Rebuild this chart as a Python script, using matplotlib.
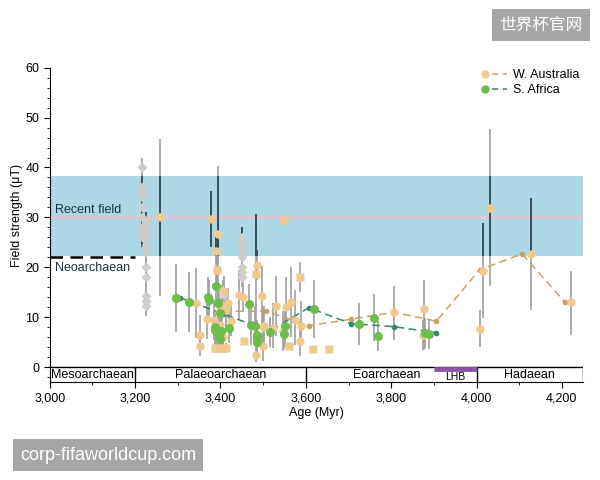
import numpy as np
import matplotlib
matplotlib.use('Agg')
import matplotlib.pyplot as plt
from matplotlib.lines import Line2D
from matplotlib.legend_handler import HandlerTuple
from matplotlib.ticker import MultipleLocator, FuncFormatter

plt.rcParams['font.family'] = ['Liberation Sans', 'Noto Sans CJK SC', 'DejaVu Sans']

# W. Australia palaeointensities (age Myr, field uT, lower err, upper err)
wa_age = [3258, 3378, 3394, 3390, 3391, 3409, 3417, 3368, 3351, 3353, 3343, 3413,
          3385, 3400, 3405, 3396, 3404, 3425, 3444, 3452, 3486, 3497, 3499, 3499,
          3483, 3529, 3554, 3565, 3575, 3589, 3587, 3546, 3522, 3503, 3807, 3876,
          3875, 4016, 4031, 4008, 4127, 4222]
wa_val = [30.0, 29.7, 26.7, 23.2, 19.5, 15.2, 12.9, 9.7, 6.4, 4.2, 12.9, 11.5,
          9.5, 8.5, 6.0, 11.0, 12.5, 9.2, 14.5, 14.0, 20.5, 14.2, 8.1, 4.3,
          2.5, 12.3, 12.1, 13.0, 9.5, 8.2, 5.3, 7.2, 7.9, 8.2, 11.0, 11.7,
          6.5, 19.3, 31.9, 7.7, 22.7, 13.0]
wa_lo = [15.8, 5.7, 23.0, 3, 4, 3, 3, 4, 3, 2, 7, 4,
         4, 4, 2, 5, 4, 3, 5, 3, 3, 6, 4, 3,
         1.5, 6, 6, 7, 5, 4, 3, 4, 4, 4, 5.5, 8.2,
         3, 9.4, 15.7, 3.7, 11.2, 6.5]
wa_hi = [15.7, 5.5, 13.5, 3, 4, 3, 3, 5, 4, 3, 7, 4,
         4, 4, 2, 5, 4, 3, 5, 3, 3, 6, 4, 3,
         2, 6, 6, 7, 6, 5, 3, 4, 5, 4, 5.2, 5.7,
         3, 9.6, 15.8, 3.8, 11.2, 6.2]

wa_sq_age = [3548, 3587, 3483, 3456, 3561, 3616, 3655, 3386, 3395, 3405, 3413, 3392]
wa_sq_val = [29.4, 18.0, 18.7, 5.2, 4.3, 3.7, 3.6, 3.9, 3.9, 3.9, 3.9, 19.5]
wa_sq_err = [0, 3, 12, 0, 0, 0, 0, 1, 1, 1, 1, 3]

# S. Africa
sa_age = [3296, 3326, 3370, 3373, 3390, 3394, 3398, 3388, 3392, 3396, 3400, 3386,
          3402, 3421, 3466, 3472, 3480, 3485, 3485, 3486, 3516, 3552, 3550, 3620,
          3725, 3759, 3768, 3880, 3889]
sa_val = [13.9, 13.1, 14.0, 13.4, 16.2, 12.9, 10.9, 8.0, 7.0, 6.2, 5.6, 7.5,
          7.2, 7.9, 12.7, 8.5, 8.3, 6.5, 5.8, 5.0, 7.0, 8.3, 6.7, 11.7,
          8.7, 9.9, 6.2, 6.9, 6.7]
sa_err = [6.8, 6, 4, 4, 3, 3, 3, 3, 3, 2, 2, 3,
          3, 3, 4, 4, 4, 3, 3, 3, 3, 4, 3, 5.8,
          4.2, 4.7, 3, 3, 3]

# grey (other) data
grey_age = [3217] * 9 + [3226] * 12 + [3450] * 9 + [3407, 3409]
grey_val = [40, 36, 35, 34, 32, 30, 28, 27, 26,
            29, 28, 27.5, 26.5, 26, 24.5, 23, 20, 18, 14.2, 13.2, 12.2,
            26, 25, 24.5, 24, 23, 22, 20, 19, 18,
            15.5, 14.5]

# running means
wa_tr_age = [3407, 3507, 3607, 3707, 3807, 3906, 4007, 4107, 4207]
wa_tr_val = [11.2, 11.2, 8.3, 9.6, 11.0, 9.2, 19.5, 22.7, 13.0]
sa_tr_age = [3305, 3405, 3515, 3607, 3706, 3807, 3906]
sa_tr_val = [13.9, 10.7, 7.2, 11.9, 8.7, 8.1, 6.9]

eons = ['Mesoarchaean', 'Palaeoarchaean', 'Eoarchaean', 'Hadaean']
eon_edges = [3000, 3200, 3600, 4000, 4250]
eon_label_x = [3100, 3400, 3790, 4125]

tan = '#f0c98f'
green = '#6cbd4c'
tan_line = '#c9a263'
green_line = '#33866b'
bar_grey = '#a0a0a0'
bar_dark = '#2f3f47'

fig = plt.figure(figsize=(6, 4.8), dpi=100)
ax = fig.add_axes([0.083, 0.204, 0.889, 0.655])

band = ax.axhspan(22.2, 38.2, xmin=0, xmax=1, color='#abd8e4', lw=0, zorder=0)
ax.axhline(30, color='#dcc6d4', lw=2.5, zorder=1)
ax.plot([3000, 3200], [22, 22], color='black', ls=(0, (5, 3)), lw=1.8, zorder=2)
ax.text(3012, 31.5, 'Recent field', fontsize=9, color='#1a3340', va='center')
ax.text(3012, 19.8, 'Neoarchaean', fontsize=9, color='#1a3340', va='center')

def err_bars(x, y, lo, hi):
    x = np.asarray(x, float)
    y = np.asarray(y, float)
    lo = np.asarray(lo, float)
    hi = np.asarray(hi, float)
    ax.vlines(x, y - lo, y + hi, color=bar_grey, lw=1.2, zorder=3)
    b = ax.vlines(x, y - lo, y + hi, color=bar_dark, lw=1.2, zorder=3)
    b.set_clip_path(band)

err_bars(grey_age, grey_val, [2] * len(grey_age), [2] * len(grey_age))
err_bars(wa_age, wa_val, wa_lo, wa_hi)
err_bars(wa_sq_age, wa_sq_val, wa_sq_err, wa_sq_err)
err_bars(sa_age, sa_val, sa_err, sa_err)

ax.plot(grey_age, grey_val, 'D', color='#cdcdcd', ms=5.5, mec='none', zorder=4)
ax.plot(wa_tr_age, wa_tr_val, color=tan_line, ls=(0, (5, 3)), lw=1.1,
        marker='o', ms=3, zorder=5)
ax.plot(sa_tr_age, sa_tr_val, color=green_line, ls=(0, (5, 3)), lw=1.1,
        marker='o', ms=3, zorder=5)
ax.plot(wa_age, wa_val, 'o', color=tan, ms=6, mec='none', zorder=6)
ax.plot(wa_sq_age, wa_sq_val, 's', color=tan, ms=5.5, mec='none', zorder=6)
ax.plot(sa_age, sa_val, 'o', color=green, ms=6.5, mec='none', zorder=6)

# geological time boxes
ax.plot([3000, 4250], [0, 0], color='black', lw=1, zorder=7)
for e in eon_edges[1:]:
    ax.plot([e, e], [-3, 0], color='black', lw=1, zorder=7)
for name, xc in zip(eons, eon_label_x):
    ax.text(xc, -1.5, name, ha='center', va='center', fontsize=9, zorder=8)
ax.plot([3900, 4000], [-0.35, -0.35], color='#8b55a8', lw=3.5,
        solid_capstyle='butt', zorder=8)
ax.text(3950, -1.9, 'LHB', ha='center', va='center', fontsize=7.5, zorder=8)

ax.set_xlim(3000, 4250)
ax.set_ylim(-3, 60)
for s in ['top', 'right']:
    ax.spines[s].set_visible(False)
ax.xaxis.set_major_locator(MultipleLocator(200))
ax.xaxis.set_minor_locator(MultipleLocator(100))
ax.xaxis.set_major_formatter(FuncFormatter(lambda v, p: f'{int(v):,}'))
ax.yaxis.set_major_locator(MultipleLocator(10))
ax.yaxis.set_minor_locator(MultipleLocator(2))
ax.tick_params(labelsize=9, direction='out', length=4)
ax.tick_params(which='minor', length=2)
ax.set_xlabel('Age (Myr)', fontsize=9, labelpad=2)
ax.set_ylabel('Field strength (μT)', fontsize=9)
ax.yaxis.set_label_coords(-0.05, 0.53)

h_wa = (Line2D([], [], marker='o', ls='none', color=tan, ms=6, mec='none'),
        Line2D([], [], ls=(0, (4, 3)), color=tan_line, lw=1.1))
h_sa = (Line2D([], [], marker='o', ls='none', color=green, ms=6, mec='none'),
        Line2D([], [], ls=(0, (4, 3)), color=green_line, lw=1.1))
ax.legend([h_wa, h_sa], ['W. Australia', 'S. Africa'],
          handler_map={tuple: HandlerTuple(ndivide=2, pad=0.0)},
          loc='upper left', bbox_to_anchor=(0.78, 1.03), frameon=False,
          fontsize=9, handlelength=2.4, handletextpad=0.5, labelspacing=0.2)

fig.text(0.901, 0.948, '世界杯官网', fontsize=12, color='white', ha='center', va='center',
         family=['Noto Sans CJK SC', 'DejaVu Sans'],
         bbox=dict(boxstyle='square,pad=0.45', fc='#a6a6a6', ec='none'))
fig.text(0.18, 0.052, 'corp-fifaworldcup.com', fontsize=13, color='white', ha='center',
         va='center', bbox=dict(boxstyle='square,pad=0.4', fc='#a6a6a6', ec='none'))

fig.savefig('out.png', dpi=100)
